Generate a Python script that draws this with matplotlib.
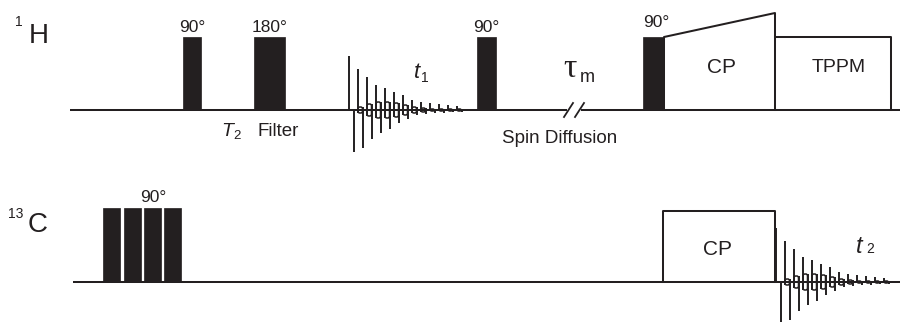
import matplotlib
matplotlib.use("Agg")
import matplotlib.pyplot as plt
from matplotlib.patches import Rectangle, FancyBboxPatch

# --- sequence layout, in pixel units of the 901x322 picture (y grows downward) ---
h_base = 110          # 1H channel baseline
c_base = 282          # 13C channel baseline

# 1H hard pulses (start, end), all same height
h_pulse_x0 = [183, 254, 477, 643]
h_pulse_x1 = [201, 285, 496, 664]
h_pulse_top = 37
h_pulse_lab = ["90°", "180°", "90°", "90°"]
h_lab_x = [192, 270, 486, 656]
h_lab_y = [32, 32, 32, 27]

# 13C: four 90 degree pulses
c_pulse_x0 = [103, 124, 144, 164]
c_pulse_x1 = [120, 141, 161, 181]
c_pulse_top = 208

# CP ramp on 1H, TPPM decoupling, CP block on 13C
cp_ramp_x = [664, 775]
cp_ramp_top = [37, 13]
tppm_x = [775, 891]
tppm_top = 37
c_cp_x = [663, 775]
c_cp_top = 211

# FID shape (heights of up / down spikes and loop half-height per cycle)
fid_up = [54, 41, 33, 25, 22, 18, 15, 10, 8, 7, 6, 5, 4]
fid_dn = [42, 38, 29, 23, 19, 13, 9, 5, 4, 3, 3, 2, 2]
fid_loop = [0, 3, 6, 8, 8, 7, 5, 3, 2, 1, 1, 1, 1]
fid1_x0 = 349   # t1 evolution
fid2_x0 = 776   # t2 acquisition
fid_dx = 9

ink = "#231f20"
plt.rcParams["font.family"] = ["Liberation Sans", "DejaVu Sans"]

fig = plt.figure(figsize=(9.01, 3.22), dpi=100)
ax = fig.add_axes([0, 0, 1, 1])
ax.set_xlim(0, 901)
ax.set_ylim(322, 0)
ax.axis("off")

lw = 1.45  # baseline / outline width


def fid(x0, base):
    for k in range(len(fid_up)):
        xu = x0 + k * fid_dx
        xd = xu + fid_dx / 2
        b = fid_loop[k]
        ax.vlines(xu, base - fid_up[k], base + b, color=ink, lw=1.4)
        ax.vlines(xd, base - b, base + fid_dn[k], color=ink, lw=1.4)
        if b > 0:
            ax.add_patch(FancyBboxPatch((xu, base - b), xd - xu, 2 * b,
                                        boxstyle="round,pad=0,rounding_size=1.8",
                                        fc="none", ec=ink, lw=1.1))


# baselines (1H has a break for the mixing time)
ax.plot([70, 567], [h_base, h_base], color=ink, lw=lw, solid_capstyle="butt")
ax.plot([581, 900], [h_base, h_base], color=ink, lw=lw, solid_capstyle="butt")
ax.plot([564, 573], [117, 103], color=ink, lw=1.3)
ax.plot([575, 584], [117, 103], color=ink, lw=1.3)
ax.plot([73, 900], [c_base, c_base], color=ink, lw=lw, solid_capstyle="butt")

# 1H pulses
for x0, x1 in zip(h_pulse_x0, h_pulse_x1):
    ax.add_patch(Rectangle((x0, h_pulse_top), x1 - x0, h_base - h_pulse_top,
                           fc=ink, ec=ink, lw=0.5))
for s, x, y in zip(h_pulse_lab, h_lab_x, h_lab_y):
    ax.text(x, y, s, fontsize=12.5, ha="center", va="baseline", color=ink)

# CP ramp + TPPM
ax.plot([cp_ramp_x[0], cp_ramp_x[0], cp_ramp_x[1], cp_ramp_x[1]],
        [h_base, cp_ramp_top[0], cp_ramp_top[1], h_base], color=ink, lw=lw)
ax.plot([tppm_x[0], tppm_x[1], tppm_x[1]], [tppm_top, tppm_top, h_base],
        color=ink, lw=lw)
ax.text(721, 67, "CP", fontsize=15, ha="center", va="center", color=ink)
ax.text(839, 67, "TPPM", fontsize=14, ha="center", va="center", color=ink)

# 13C pulses
for x0, x1 in zip(c_pulse_x0, c_pulse_x1):
    ax.add_patch(Rectangle((x0, c_pulse_top), x1 - x0, c_base - c_pulse_top,
                           fc=ink, ec=ink, lw=0.5))
ax.text(153, 202, "90°", fontsize=12.5, ha="center", va="baseline", color=ink)

# 13C CP block
ax.plot([c_cp_x[0], c_cp_x[0], c_cp_x[1], c_cp_x[1]],
        [c_base, c_cp_top, c_cp_top, c_base], color=ink, lw=lw)
ax.text(718, 249, "CP", fontsize=15, ha="center", va="center", color=ink)

# FIDs
fid(fid1_x0, h_base)
fid(fid2_x0, c_base)

# channel labels
ax.text(19, 26, "1", fontsize=10, ha="center", va="baseline", color=ink)
ax.text(39, 43, "H", fontsize=20, ha="center", va="baseline", color=ink)
ax.text(16, 218, "13", fontsize=10, ha="center", va="baseline", color=ink)
ax.text(38, 232, "C", fontsize=20, ha="center", va="baseline", color=ink)

# annotations
ax.text(227, 136, "T", fontsize=14, style="italic", ha="center", va="baseline", color=ink)
ax.text(237, 139, "2", fontsize=9.5, ha="center", va="baseline", color=ink)
ax.text(278, 136, "Filter", fontsize=13.5, ha="center", va="baseline", color=ink)
ax.text(560, 143, "Spin Diffusion", fontsize=13.5, ha="center", va="baseline", color=ink)

ax.text(417, 78, "t", fontsize=16, style="italic", ha="center", va="baseline", color=ink)
ax.text(425, 82, "1", fontsize=10, ha="center", va="baseline", color=ink)
ax.text(859, 253, "t", fontsize=17, style="italic", ha="center", va="baseline", color=ink)
ax.text(870, 253, "2", fontsize=10, ha="center", va="baseline", color=ink)

ax.text(570, 77, "τ", fontsize=24, family=["Liberation Serif", "DejaVu Serif"],
        ha="center", va="baseline", color=ink)
ax.text(587, 82, "m", fontsize=13, ha="center", va="baseline", color=ink)

fig.savefig("out.png", dpi=100)
